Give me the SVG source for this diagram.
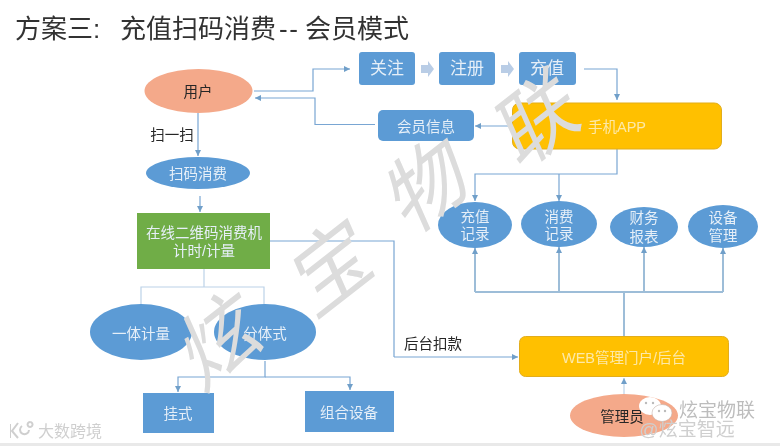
<svg xmlns="http://www.w3.org/2000/svg" width="780" height="446" viewBox="0 0 780 446">
<style>
text{font-family:"Liberation Sans","Noto Sans CJK SC",sans-serif;text-anchor:middle}
.w{fill:#e6eff8;font-size:14.500px}
.d{fill:#262626;font-size:14.500px}
.b{fill:#5b9bd5}
.y{fill:#ffc000;stroke:#e2ad1c;stroke-width:1}
.o{fill:#f4a98a}
.c{fill:none;stroke:#79a6d3;stroke-width:1.2}
.l{fill:none;stroke:#bcd2e8;stroke-width:1.2}
.t{fill:none;stroke:#9dbdd8;stroke-width:2}
.m{fill:#dcdcdc;font-size:82px;font-style:italic}
.h{text-anchor:start;font-size:26px;fill:#333}
.k{fill:#c6c6c6;font-size:18px}
.f{font-size:17px}
</style>
<defs>
<marker id="a" markerWidth="7" markerHeight="7" refX="6" refY="3" orient="auto" markerUnits="userSpaceOnUse"><path d="M0 0L6 3L0 6z" fill="#6f9fc9"/></marker>
<filter id="s" x="0" y="0" width="100%" height="100%"><feGaussianBlur stdDeviation="0.350"/></filter>
</defs>
<rect width="780" height="446" fill="#fff"/>
<rect y="443" width="780" height="3" fill="#e9e9e9"/>
<g filter="url(#s)">
<text class="h" x="15" y="38">方案三:</text>
<text class="h" x="120" y="38">充值扫码消费</text>
<text class="h" x="279" y="38" style="letter-spacing:1.500px">--</text>
<text class="h" x="305" y="38">会员模式</text>
<g id="connectors">
<path class="c" marker-end="url(#a)" d="M254 91H313V69H350"/>
<path class="c" marker-end="url(#a)" d="M375 124.500H315V98H255"/>
<path class="c" marker-end="url(#a)" d="M198 113V156"/>
<path class="c" marker-end="url(#a)" d="M200 196V212"/>
<path class="c" marker-end="url(#a)" d="M584 69H617V100"/>
<path class="c" marker-end="url(#a)" d="M512 126H475"/>
<path class="c" marker-end="url(#a)" d="M617 149V174H475V201"/>
<path class="c" marker-end="url(#a)" d="M559 174V201"/>
<path class="l" d="M204 269V287M141 305V287H264V305"/>
<path class="c" d="M270 241H394V357"/>
<path class="c" marker-end="url(#a)" d="M394 357H518"/>
<path class="c" marker-end="url(#a)" d="M265 361V377H178V392"/>
<path class="c" marker-end="url(#a)" d="M265 377H350V390"/>
<path class="t" d="M475 292H723M624 336V292"/>
<path class="t" marker-end="url(#a)" d="M475 292V248"/>
<path class="t" marker-end="url(#a)" d="M559 292V247"/>
<path class="t" marker-end="url(#a)" d="M644 292V247"/>
<path class="t" marker-end="url(#a)" d="M723 292V248"/>
<path class="l" marker-end="url(#a)" d="M624 394V378"/>
</g>
<g id="user"><ellipse class="o" cx="198.500" cy="91" rx="54" ry="22"/><text class="d" x="198" y="97">用户</text></g>
<text class="d" x="172" y="140">扫一扫</text>
<g id="follow"><rect class="b" x="359" y="52" width="56" height="33" rx="3"/><text class="w f" x="387" y="74">关注</text></g>
<path fill="#b9cde6" d="M421 65H428V61L434 69L428 77V73H421z"/>
<g id="register"><rect class="b" x="439" y="52" width="56" height="33" rx="3"/><text class="w f" x="467" y="74">注册</text></g>
<path fill="#b9cde6" d="M501 65H508V61L514 69L508 77V73H501z"/>
<g id="recharge"><rect class="b" x="519" y="52" width="57" height="33" rx="3"/><text class="w f" x="547" y="74">充值</text></g>
<g id="member"><rect class="b" x="378" y="110" width="96" height="31" rx="5"/><text class="w" x="426" y="132">会员信息</text></g>
<g id="app"><rect class="y" x="512.500" y="103" width="209" height="46" rx="7"/><text class="w" x="617" y="132" style="fill:#fde9a8">手机APP</text></g>
<g id="scan"><ellipse class="b" cx="198" cy="173" rx="52" ry="16"/><text class="w" x="198" y="179">扫码消费</text></g>
<g id="machine"><rect x="137" y="213" width="133" height="56" fill="#70ad47"/><text class="w" x="204" y="238">在线二维码消费机</text><text class="w" x="204" y="256">计时/计量</text></g>
<g id="integrated"><ellipse class="b" cx="141" cy="332" rx="51" ry="28"/><text class="w" x="141" y="339">一体计量</text></g>
<g id="split"><ellipse class="b" cx="265" cy="332" rx="51" ry="28"/><text class="w" x="265" y="339">分体式</text></g>
<g id="hang"><rect class="b" x="143" y="393" width="71" height="40"/><text class="w" x="178" y="419">挂式</text></g>
<g id="combo"><rect class="b" x="305" y="391" width="89" height="41"/><text class="w" x="349" y="418">组合设备</text></g>
<g id="r1"><ellipse class="b" cx="475" cy="225" rx="37" ry="23"/><text class="w" x="475" y="222">充值</text><text class="w" x="475" y="239">记录</text></g>
<g id="r2"><ellipse class="b" cx="559" cy="224" rx="38" ry="23"/><text class="w" x="559" y="222">消费</text><text class="w" x="559" y="239">记录</text></g>
<g id="r3"><ellipse class="b" cx="644" cy="227" rx="34" ry="20"/><text class="w" x="644" y="223">财务</text><text class="w" x="644" y="242">报表</text></g>
<g id="r4"><ellipse class="b" cx="723" cy="226.500" rx="35" ry="21.500"/><text class="w" x="723" y="223">设备</text><text class="w" x="723" y="241">管理</text></g>
<g id="web"><rect class="y" x="519.500" y="336.500" width="209" height="40" rx="6"/><text class="w" x="624" y="363" style="fill:#fde9a8">WEB管理门户/后台</text></g>
<g id="admin"><ellipse class="o" cx="624" cy="415.500" rx="54" ry="21.500"/><text class="d" x="622" y="422">管理员</text></g>
<text class="d" x="433" y="349">后台扣款</text>
<text class="m" transform="translate(233 367) rotate(-38)">炫</text>
<text class="m" transform="translate(345 294) rotate(-38)">宝</text>
<text class="m" transform="translate(441 212) rotate(-38)">物</text>
<text class="m" transform="translate(551 146) rotate(-38)">联</text>
<text class="k" x="717" y="417" style="font-size:19px;fill:#bdbdbd">炫宝物联</text>
<text class="k" x="687" y="436" style="font-size:19px;fill:#cfcfcf">@炫宝智远</text>
<g id="wechat" fill="#fff"><ellipse cx="650" cy="406" rx="11" ry="9"/><ellipse cx="662" cy="413" rx="10" ry="8.500" stroke="#c4b4ad" stroke-width=".6"/><circle cx="646" cy="403" r="1.200" fill="#bbb"/><circle cx="653" cy="403" r="1.200" fill="#bbb"/><circle cx="659" cy="411" r="1.200" fill="#bbb"/><circle cx="665" cy="411" r="1.200" fill="#bbb"/></g>
<text class="k" x="70" y="437" style="font-size:16px;fill:#cfcfcf">大数跨境</text>
<path d="M10 424V438M18 423L12 431L18 438M22 426a4.500 4.500 0 1 0 7 4M30 422a2.500 2.500 0 1 0 .1 0" fill="none" stroke="#cfcfcf" stroke-width="2"/>
</g>
</svg>
